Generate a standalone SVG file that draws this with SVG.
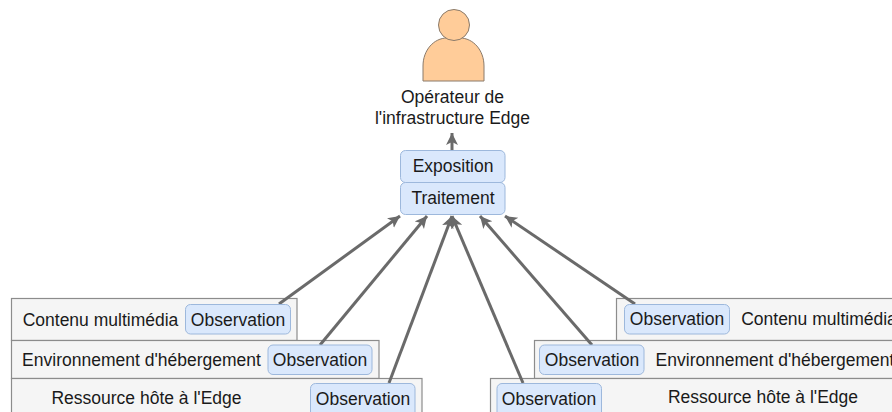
<svg xmlns="http://www.w3.org/2000/svg" width="892" height="412" viewBox="0 0 892 412">
<style>
text{font-family:"Liberation Sans",Arial,sans-serif;font-size:17.5px;fill:#1a1a1a;text-anchor:middle}
.box{fill:#f5f5f5;stroke:#8c8c8c;stroke-width:1.2}
.blue{fill:#dae8fc;stroke:#9db8dc;stroke-width:1}
.c{fill:none;stroke:#6a6a6a;stroke-width:3;marker-end:url(#a)}
</style>
<defs><marker id="a" markerUnits="userSpaceOnUse" markerWidth="14" markerHeight="14" refX="12" refY="6" orient="auto"><path d="M0 0L12 6L0 12L3 6Z" fill="#6a6a6a"/></marker></defs>
<g id="left-contenu"><rect class="box" x="11.500" y="298.500" width="285.500" height="42"/><text x="100.500" y="325.500">Contenu multimédia</text></g>
<g id="left-env"><rect class="box" x="11.500" y="340.500" width="367.500" height="38"/><text x="141.500" y="365.500">Environnement d'hébergement</text></g>
<g id="left-res"><rect class="box" x="11.500" y="378.500" width="410.500" height="50"/><text x="146.500" y="404">Ressource hôte à l'Edge</text></g>
<g id="right-contenu"><rect class="box" x="616.500" y="298.500" width="290" height="42"/><text x="819" y="325">Contenu multimédia</text></g>
<g id="right-env"><rect class="box" x="534.500" y="340.500" width="372" height="38"/><text x="775" y="365.500">Environnement d'hébergement</text></g>
<g id="right-res"><rect class="box" x="490.500" y="378.500" width="416" height="50"/><text x="763" y="403">Ressource hôte à l'Edge</text></g>
<g id="connectors">
<path class="c" d="M452 150V133"/>
<path class="c" d="M279 304L400 216"/>
<path class="c" d="M320 345L427 216"/>
<path class="c" d="M389 383L452 216"/>
<path class="c" d="M635 304L505 216"/>
<path class="c" d="M592 345L480 216"/>
<path class="c" d="M523 383L452 216"/>
</g>
<g id="operateur"><path d="M423 81V66C423 50 434 38 447 38H460C473 38 484 50 484 66V81Z" fill="#ffcc99" stroke="#8a7a6a" stroke-width="1"/><circle cx="454" cy="25" r="15.500" fill="#ffcc99" stroke="#8a7a6a" stroke-width="1"/><text x="452.500" y="103">Opérateur de</text><text x="452.500" y="124">l'infrastructure Edge</text></g>
<g id="exposition"><rect class="blue" x="400.500" y="150.500" width="104.500" height="32" rx="5"/><text x="453" y="172">Exposition</text></g>
<g id="traitement"><rect class="blue" x="400.500" y="182.500" width="104.500" height="32" rx="5"/><text x="453" y="204">Traitement</text></g>
<g id="obs-l1"><rect class="blue" x="185.500" y="304.500" width="105" height="29.500" rx="5"/><text x="238" y="325.500">Observation</text></g>
<g id="obs-l2"><rect class="blue" x="268" y="345" width="104" height="29.500" rx="5"/><text x="320" y="366">Observation</text></g>
<g id="obs-l3"><rect class="blue" x="310.500" y="383.500" width="104.500" height="40" rx="5"/><text x="363" y="405">Observation</text></g>
<g id="obs-r1"><rect class="blue" x="624.500" y="304.500" width="105" height="29.500" rx="5"/><text x="677" y="325">Observation</text></g>
<g id="obs-r2"><rect class="blue" x="539.500" y="345" width="104.500" height="29.500" rx="5"/><text x="592" y="366">Observation</text></g>
<g id="obs-r3"><rect class="blue" x="497" y="383.500" width="104.500" height="40" rx="5"/><text x="549" y="405">Observation</text></g>
</svg>
